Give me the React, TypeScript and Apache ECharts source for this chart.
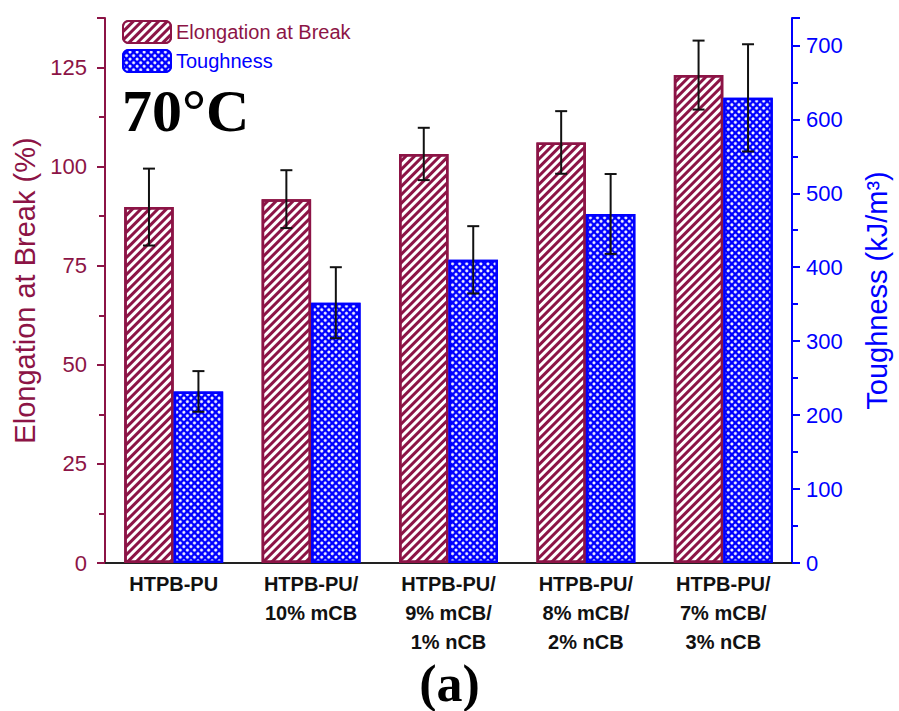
import React, { useEffect, useRef } from "react";
import * as echarts from "echarts";

const categories = [
  "HTPB-PU",
  "HTPB-PU/\n10% mCB",
  "HTPB-PU/\n9% mCB/\n1% nCB",
  "HTPB-PU/\n8% mCB/\n2% nCB",
  "HTPB-PU/\n7% mCB/\n3% nCB",
];
const elongation = [89.8, 91.8, 103.2, 106.1, 123.1];
const elongationErr = [9.7, 7.3, 6.6, 7.9, 8.7];
const toughness = [232, 352, 410, 472, 629];
const toughnessErr = [27.5, 48, 45.5, 54, 72.5];

const MAROON = "#8C1446";
const BLUE = "#0000FF";
const SANS = "'Liberation Sans', Arial, sans-serif";
const SERIF = "'Liberation Serif', 'Times New Roman', serif";

function errorRender(offsetFrac: number) {
  return (params: any, api: any) => {
    const idx = api.value(0);
    const v = api.value(1);
    const e = api.value(2);
    const band = api.size([1, 0])[0];
    const c = api.coord([idx, v]);
    const x = c[0] + offsetFrac * band;
    const top = api.coord([idx, v + e])[1];
    const bot = api.coord([idx, v - e])[1];
    const cap = 6;
    const style = { stroke: "#111", lineWidth: 2 };
    return {
      type: "group",
      children: [
        { type: "line", shape: { x1: x, y1: top, x2: x, y2: bot }, style },
        { type: "line", shape: { x1: x - cap, y1: top, x2: x + cap, y2: top }, style },
        { type: "line", shape: { x1: x - cap, y1: bot, x2: x + cap, y2: bot }, style },
      ],
    };
  };
}

export default function App() {
  const ref = useRef<HTMLDivElement>(null);
  useEffect(() => {
    if (!ref.current) return;
    const chart = echarts.init(ref.current, undefined, { renderer: "svg" });
    const option: any = {
      animation: false,
      backgroundColor: "#fff",
      grid: { left: 105, right: 104, top: 18, bottom: 148 },
      legend: {
        orient: "vertical",
        left: 117,
        top: 15,
        itemWidth: 48,
        itemHeight: 22,
        itemGap: 5,
        textStyle: { fontSize: 20, fontFamily: SANS },
        data: [
          { name: "Elongation at Break", textStyle: { color: MAROON } },
          { name: "Toughness", textStyle: { color: BLUE } },
        ],
      },
      xAxis: [
        {
          type: "category",
          data: categories,
          axisLine: { lineStyle: { color: "#222", width: 2 } },
          axisTick: { alignWithLabel: true, length: 8, lineStyle: { color: "#222", width: 2 } },
          axisLabel: {
            interval: 0,
            margin: 6,
            color: "#111",
            fontSize: 20,
            fontWeight: "bold",
            fontFamily: SANS,
            lineHeight: 29,
          },
          splitLine: { show: false },
        },
        {
          type: "category",
          data: categories,
          position: "top",
          axisLine: { lineStyle: { color: "#222", width: 2 } },
          axisTick: { alignWithLabel: true, inside: true, length: 8, lineStyle: { color: "#222", width: 2 } },
          axisLabel: { show: false },
          splitLine: { show: false },
        },
      ],
      yAxis: [
        {
          type: "value",
          min: 0,
          max: 137.5,
          interval: 25,
          name: "Elongation at Break (%)",
          nameLocation: "middle",
          nameGap: 64,
          nameTextStyle: { color: MAROON, fontSize: 29, fontFamily: SANS },
          axisLine: { show: true, lineStyle: { color: MAROON, width: 2 } },
          axisTick: { show: true, length: 8, lineStyle: { color: MAROON, width: 2 } },
          minorTick: { show: true, splitNumber: 2, length: 6, lineStyle: { color: MAROON, width: 2 } },
          axisLabel: { color: MAROON, fontSize: 22, fontFamily: SANS, margin: 18, showMaxLabel: false },
          splitLine: { show: false },
        },
        {
          type: "value",
          min: 0,
          max: 737,
          interval: 100,
          name: "Toughness (kJ/m³)",
          nameLocation: "middle",
          nameGap: 70,
          nameTextStyle: { color: BLUE, fontSize: 29, fontFamily: SANS },
          axisLine: { show: true, lineStyle: { color: BLUE, width: 2 } },
          axisTick: { show: true, length: 8, lineStyle: { color: BLUE, width: 2 } },
          minorTick: { show: true, splitNumber: 2, length: 6, lineStyle: { color: BLUE, width: 2 } },
          axisLabel: { color: BLUE, fontSize: 22, fontFamily: SANS, margin: 14, showMaxLabel: false },
          splitLine: { show: false },
        },
      ],
      series: [
        {
          name: "Elongation at Break",
          type: "bar",
          yAxisIndex: 0,
          barWidth: "36%",
          barGap: "0%",
          data: elongation,
          itemStyle: {
            color: "#fff",
            borderColor: MAROON,
            borderWidth: 2.5,
            decal: {
              symbol: "rect",
              symbolSize: 1,
              color: MAROON,
              dashArrayX: [1, 0],
              dashArrayY: [2.5, 3],
              rotation: -Math.PI / 4,
            },
          },
          z: 2,
        },
        {
          name: "Toughness",
          type: "bar",
          yAxisIndex: 1,
          barWidth: "36%",
          barGap: "0%",
          data: toughness,
          itemStyle: {
            color: BLUE,
            borderColor: BLUE,
            borderWidth: 2.5,
            decal: {
              symbol: "circle",
              symbolSize: 1,
              color: "#fff",
              dashArrayX: [3, 2],
              dashArrayY: [3, 2],
              rotation: Math.PI / 4,
            },
          },
          z: 2,
        },
        {
          type: "custom",
          yAxisIndex: 0,
          renderItem: errorRender(-0.18),
          encode: { x: 0, y: 1 },
          data: elongation.map((v, i) => [i, v, elongationErr[i]]),
          z: 5,
        },
        {
          type: "custom",
          yAxisIndex: 1,
          renderItem: errorRender(0.18),
          encode: { x: 0, y: 1 },
          data: toughness.map((v, i) => [i, v, toughnessErr[i]]),
          z: 5,
        },
      ],
      graphic: [
        {
          type: "text",
          left: 122,
          top: 81,
          style: { text: "70°C", font: `bold 60px ${SERIF}`, fill: "#000" },
        },
        {
          type: "text",
          left: "center",
          top: 657,
          style: { text: "(a)", font: `bold 52px ${SERIF}`, fill: "#000" },
        },
      ],
    };
    chart.setOption(option);
    return () => chart.dispose();
  }, []);
  return (
    <div
      ref={ref}
      style={{ position: "absolute", left: 0, top: 0, width: 899, height: 711 }}
    />
  );
}
